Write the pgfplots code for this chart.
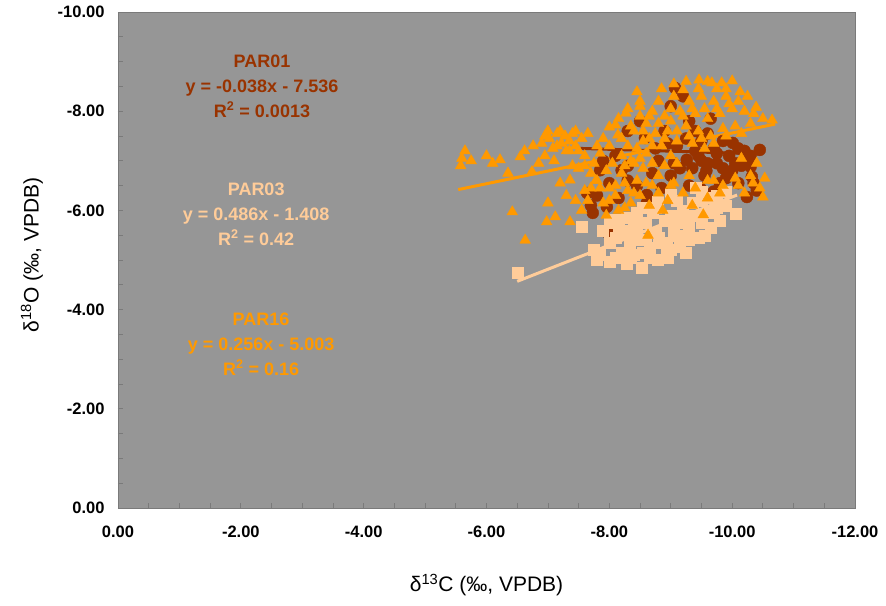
\documentclass[border=0pt]{standalone}
\usepackage{pgfplots}
\pgfplotsset{compat=1.18}
\usepackage{fontspec}
\setmainfont{Liberation Sans}
\usetikzlibrary{calc}
\definecolor{bg}{HTML}{969696}
\definecolor{brn}{HTML}{993300}
\definecolor{pch}{HTML}{FFCC99}
\definecolor{org}{HTML}{FF9900}
\definecolor{frm}{HTML}{7A7A7A}
\begin{document}
\begin{tikzpicture}
\begin{axis}[
  scale only axis, width=737pt, height=496pt,
  x dir=reverse, y dir=reverse,
  xmin=-12, xmax=0, ymin=-10, ymax=0,
  xtick={-12,-10,...,0}, ytick={-10,-8,...,0},
  minor xtick={-11.5,-11,...,-0.5}, minor ytick={-9.5,-9,...,-0.5},
  xtick pos=bottom, ytick pos=left,
  tick align=inside, major tick length=5pt, minor tick length=5pt,
  axis background/.style={fill=bg},
  axis line style={draw=frm, line width=0.8pt},
  every tick/.style={frm, line width=0.8pt},
  /pgf/number format/.cd, fixed, fixed zerofill, precision=2, assume math mode=true,
  /pgfplots/.cd,
  tick label style={font=\fontsize{16.5}{18}\selectfont\bfseries},
  xticklabel style={yshift=-14pt},
  yticklabel style={xshift=-10pt},
  clip=false,
]
\coordinate (BL) at (axis cs:0,0);
\coordinate (TR) at (axis cs:-12,-10);
% PAR01
\addplot[only marks, mark=*, mark size=6pt, mark options={fill=brn, draw=brn}] coordinates {
(-9.07,-8.47) (-10.45,-7.22) (-10.30,-6.88) (-10.32,-6.68) (-10.24,-6.27) (-10.01,-7.36)
(-7.73,-5.95) (-7.64,-6.35) (-7.98,-5.54) (-7.96,-6.07) (-8.61,-6.31) (-8.58,-7.46)
(-9.26,-7.02) (-9.58,-6.80) (-9.90,-6.65) (-9.48,-6.45) (-9.70,-6.38) (-7.85,-6.81)
(-8.20,-6.81) (-8.61,-6.15) (-8.90,-7.60) (-9.10,-7.30) (-9.40,-7.20) (-9.70,-7.25)
(-9.95,-7.10) (-10.15,-6.90) (-10.10,-6.55) (-9.30,-7.80) (-9.00,-8.10) (-9.20,-8.30)
(-8.80,-7.00) (-8.45,-6.50) (-8.30,-6.90) (-8.00,-6.55) (-7.80,-6.30) (-9.60,-7.55)
(-9.85,-7.40) (-10.20,-7.20) (-9.00,-6.70) (-9.30,-6.50) (-8.70,-6.75) (-8.10,-7.10)
(-7.90,-7.00) (-9.50,-7.00) (-9.75,-6.95) (-10.00,-6.80) (-9.15,-6.85) (-8.85,-6.45)
(-10.40,-6.40) (-8.05,-5.75) (-9.40,-7.60) (-9.65,-7.85) (-8.75,-7.25) (-10.25,-7.00)
(-9.05,-6.95) (-9.35,-6.85) (-9.60,-6.95) (-9.85,-6.85) (-10.05,-6.95) (-10.30,-7.10)
(-9.45,-7.10) (-9.75,-7.15) (-10.10,-7.25) (-9.25,-7.45) (-8.95,-7.35) (-9.55,-6.70)
(-9.80,-6.55) (-10.35,-6.55) (-8.30,-6.60) (-8.15,-6.25) (-7.70,-6.10) (-8.50,-7.80)
(-8.30,-7.60) (-9.50,-7.40)
};
% PAR03
\addplot[only marks, mark=square*, mark size=5.5pt, mark options={fill=pch, draw=pch}] coordinates {
(-6.50,-4.74) (-7.55,-5.67) (-8.00,-4.96) (-8.28,-4.92) (-8.53,-4.84) (-7.80,-5.00)
(-7.85,-5.10) (-8.78,-5.00) (-8.94,-5.24) (-9.04,-5.50) (-8.09,-5.81) (-8.28,-5.85)
(-8.55,-6.05) (-8.78,-6.18) (-9.00,-6.32) (-8.33,-5.33) (-8.45,-5.55) (-10.05,-5.93)
(-9.50,-6.37) (-9.68,-6.25) (-9.15,-5.26) (-9.10,-5.50) (-9.30,-5.65) (-9.42,-5.90)
(-9.75,-6.05) (-9.90,-6.37) (-8.20,-5.15) (-8.10,-5.45) (-8.40,-5.10) (-8.65,-5.25)
(-8.75,-5.55) (-8.60,-5.75) (-8.90,-5.80) (-9.20,-6.00) (-9.10,-6.20) (-9.35,-6.15)
(-9.60,-6.00) (-9.50,-5.75) (-9.30,-5.40) (-8.00,-5.35) (-7.90,-5.60) (-8.15,-5.65)
(-8.35,-5.05) (-8.65,-5.05) (-8.95,-5.05) (-9.25,-5.15) (-9.55,-5.50) (-9.80,-5.80)
(-9.40,-6.45) (-8.85,-5.35) (-8.40,-5.75) (-8.70,-5.95) (-9.00,-5.90) (-9.65,-5.65)
(-8.20,-5.55) (-8.50,-5.40) (-8.80,-5.45) (-9.05,-5.70) (-9.20,-5.75) (-8.45,-5.95)
(-8.75,-6.05) (-9.30,-5.90) (-9.50,-6.20) (-9.75,-6.30) (-8.10,-5.05) (-8.55,-5.15)
(-8.30,-5.60) (-8.60,-5.40) (-9.00,-5.20) (-9.45,-5.45) (-9.70,-5.95) (-9.90,-6.10)
(-8.00,-5.75) (-7.75,-5.20)
};
% PAR16
\addplot[only marks, mark=triangle*, mark size=6.2pt, mark options={fill=org, draw=org}] coordinates {
(-5.60,-7.05) (-5.65,-7.20) (-5.58,-6.90) (-5.75,-7.00) (-6.00,-7.10) (-6.10,-6.95)
(-6.22,-7.02) (-6.35,-6.75) (-6.55,-7.08) (-6.62,-7.20) (-6.76,-7.30) (-6.74,-6.78)
(-6.90,-7.35) (-6.95,-7.10) (-7.02,-7.45) (-7.08,-7.25) (-7.15,-7.55) (-7.20,-7.60)
(-7.28,-7.50) (-7.35,-7.40) (-7.40,-7.55) (-7.45,-7.30) (-7.50,-7.20) (-7.30,-7.20)
(-7.10,-7.00) (-6.85,-6.95) (-7.55,-7.45) (-7.60,-7.10) (-7.22,-7.35) (-7.00,-7.60)
(-6.42,-5.97) (-6.63,-5.40) (-7.00,-6.15) (-7.12,-5.87) (-6.98,-5.77) (-7.36,-5.77)
(-7.20,-6.55) (-7.36,-6.61) (-7.30,-6.30) (-7.45,-6.20) (-7.55,-6.00) (-7.60,-6.40)
(-7.70,-6.75) (-7.78,-6.60) (-7.50,-6.85) (-7.65,-6.20) (-7.85,-6.45) (-7.90,-6.15)
(-7.40,-6.90) (-7.75,-6.95)
(-8.00,-7.68) (-8.10,-7.72) (-8.14,-7.52) (-8.27,-7.96) (-8.45,-8.39) (-8.50,-7.90)
(-8.40,-7.60) (-8.60,-7.75) (-8.70,-8.00) (-8.80,-8.20) (-8.90,-7.90) (-8.75,-7.55)
(-8.55,-7.40) (-8.30,-7.30) (-8.20,-7.10) (-8.00,-7.30) (-7.90,-7.45) (-7.85,-7.15)
(-8.05,-6.95) (-8.35,-7.00) (-8.60,-7.15) (-8.85,-7.30) (-8.95,-7.60) (-9.00,-8.05)
(-9.05,-8.30)
(-7.80,-6.60) (-7.95,-6.80) (-8.10,-6.50) (-8.20,-6.75) (-8.30,-6.40) (-8.45,-6.60)
(-8.55,-6.85) (-8.70,-6.50) (-8.80,-6.70) (-8.90,-6.90) (-8.00,-6.20) (-8.15,-6.00)
(-8.35,-6.15) (-8.50,-6.30) (-8.65,-6.10) (-8.80,-6.35) (-8.95,-6.20) (-9.05,-6.55)
(-7.95,-5.90) (-8.25,-6.05) (-8.63,-5.50) (-9.53,-5.91) (-8.87,-6.00)
(-9.20,-8.43) (-9.46,-8.63) (-9.67,-8.57) (-9.83,-8.57) (-10.00,-8.61) (-10.13,-8.39)
(-10.39,-8.08) (-10.65,-7.82) (-9.30,-8.20) (-9.50,-8.30) (-9.70,-8.20) (-9.90,-8.30)
(-9.40,-7.95) (-9.60,-7.85) (-9.80,-7.95) (-10.00,-8.05) (-10.20,-8.00) (-9.25,-7.70)
(-9.45,-7.60) (-9.65,-7.50) (-9.85,-7.65) (-10.05,-7.70) (-9.10,-7.40) (-9.35,-7.35)
(-10.30,-7.75) (-10.50,-7.85) (-9.55,-7.25) (-9.15,-8.00) (-9.75,-8.45) (-10.25,-8.30)
(-9.10,-6.95) (-9.30,-6.70) (-9.70,-6.60) (-10.10,-6.50)
(-10.30,-6.70) (-10.53,-6.65) (-10.50,-6.27) (-10.34,-6.55) (-10.20,-6.35) (-9.80,-6.35)
(-9.60,-6.25) (-9.40,-6.45) (-9.20,-6.35) (-9.35,-6.10) (-10.15,-7.05)
(-10.40,-6.95) (-9.00,-6.50)
(-8.50,-8.10) (-8.85,-8.45) (-8.70,-7.30) (-9.00,-7.10) (-8.40,-6.95)
(-8.20,-7.45) (-8.35,-7.70) (-8.55,-7.60) (-8.65,-7.90) (-8.80,-7.75) (-9.00,-7.80)
(-9.10,-7.60) (-9.20,-7.90) (-9.35,-8.05) (-9.55,-8.05) (-9.75,-8.05) (-9.95,-8.15)
(-9.45,-8.45) (-9.60,-8.60) (-9.90,-8.45) (-10.10,-8.20) (-10.35,-7.95) (-9.30,-7.50)
(-9.50,-7.45) (-9.70,-7.35) (-9.90,-7.50) (-10.15,-7.55) (-8.45,-7.25) (-8.65,-7.45)
(-8.90,-7.45) (-8.25,-6.90) (-8.50,-7.05) (-8.70,-6.95)
(-9.60,-6.60) (-9.85,-6.50) (-10.05,-6.65) (-10.45,-6.45)
(-8.10,-6.30) (-8.40,-6.35) (-8.60,-6.55) (-8.25,-6.55) (-8.00,-6.45) (-7.70,-6.45)
(-7.60,-6.90) (-7.80,-7.30) (-7.65,-7.55) (-7.35,-7.20) (-7.15,-7.30) (-6.95,-7.50)
(-7.45,-7.60) (-8.50,-8.20) (-8.30,-8.05) (-8.15,-7.85) (-9.05,-8.55) (-9.25,-8.60)
};
% trend lines
\addplot[brn, line width=3pt] coordinates {(-7.52,-7.25) (-10.45,-7.14)};
\addplot[pch, line width=3pt] coordinates {(-6.50,-4.57) (-10.08,-6.31)};
\addplot[org, line width=3pt] coordinates {(-5.54,-6.42) (-10.70,-7.74)};
% annotations
\node[align=center, text=brn, font=\fontsize{18}{25}\selectfont\bfseries] at (axis cs:-2.345,-8.51)
  {PAR01\\y = -0.038x - 7.536\\R\textsuperscript{2} = 0.0013};
\node[align=center, text=pch, font=\fontsize{18}{25}\selectfont\bfseries] at (axis cs:-2.25,-5.93)
  {PAR03\\y = 0.486x - 1.408\\R\textsuperscript{2} = 0.42};
\node[align=center, text=org, font=\fontsize{18}{25}\selectfont\bfseries] at (axis cs:-2.33,-3.31)
  {PAR16\\y = 0.256x - 5.003\\R\textsuperscript{2} = 0.16};
\end{axis}
\path let \p1=(BL), \p2=(TR) in
  node[font=\fontsize{21}{24}\selectfont, anchor=center] at ({0.5*\x1+0.5*\x2}, \y1-77pt) {δ\textsuperscript{13}C (‰, VPDB)}
  node[font=\fontsize{21}{24}\selectfont, anchor=center, rotate=90] at (\x1-86pt, {0.5*\y1+0.5*\y2+5pt}) {δ\textsuperscript{18}O (‰, VPDB)};
\pgfresetboundingbox
\path ($(BL)+(-118pt,-97pt)$) rectangle ($(TR)+(31pt,12pt)$);
\end{tikzpicture}
\end{document}
